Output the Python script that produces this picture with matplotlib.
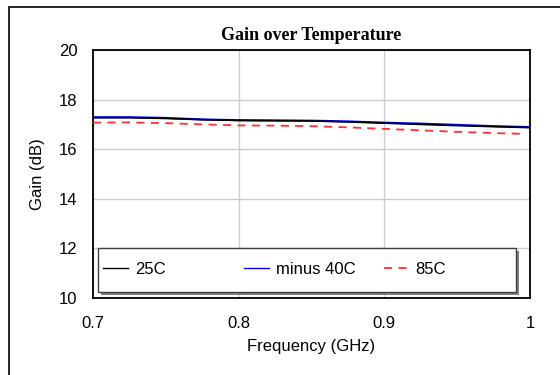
import matplotlib
matplotlib.use('Agg')
import matplotlib.pyplot as plt
from matplotlib.patches import Rectangle
from matplotlib.lines import Line2D
from matplotlib.legend import Legend

# data
freq = [0.700, 0.725, 0.750, 0.775, 0.800, 0.825, 0.850, 0.875, 0.900, 0.925, 0.950, 0.975, 1.000]
gain_25c = [17.27, 17.27, 17.24, 17.19, 17.16, 17.15, 17.14, 17.10, 17.05, 17.00, 16.95, 16.91, 16.87]
gain_m40c = [17.29, 17.29, 17.26, 17.20, 17.17, 17.16, 17.15, 17.12, 17.07, 17.03, 16.98, 16.93, 16.89]
freq_85 = [0.700, 0.725, 0.750, 0.775, 0.800, 0.825, 0.850, 0.875, 0.900, 0.925, 0.950, 0.975, 0.995]
gain_85c = [17.07, 17.08, 17.05, 17.00, 16.96, 16.95, 16.93, 16.88, 16.82, 16.76, 16.70, 16.65, 16.62]
labels = ['25C', 'minus 40C', '85C']
xticks = [0.7, 0.8, 0.9, 1.0]
xticklabels = ['0.7', '0.8', '0.9', '1']
yticks = [10, 12, 14, 16, 18, 20]

plt.rcParams['font.family'] = ['Liberation Sans', 'DejaVu Sans']

fig = plt.figure(figsize=(5.6, 3.75), dpi=100)
W, H = 560.0, 375.0

# outer chart frame
fig.patches.append(Rectangle((9 / W, -0.1), 1.2, 1 - 6.5 / H + 0.1, transform=fig.transFigure,
                             fill=False, edgecolor='black', linewidth=1.2))

ax = fig.add_axes([93 / W, 1 - 298 / H, 437 / W, 248 / H])

ax.plot(freq, gain_25c, color='black', lw=1.2, zorder=3)
ax.plot(freq, gain_m40c, color='#0000ff', lw=1.5, zorder=2)
ax.plot(freq_85, gain_85c, color='#ff3030', lw=1.3, dashes=(4.5, 3.5), zorder=3)

ax.set_xlim(0.7, 1.0)
ax.set_ylim(10, 20)
ax.set_xticks(xticks)
ax.set_xticklabels(xticklabels)
ax.set_yticks(yticks)
ax.tick_params(length=0, labelsize=12)
ax.tick_params(axis='y', pad=11)
ax.tick_params(axis='x', pad=13)
ax.grid(True, color='#cccccc', lw=1)
ax.set_axisbelow(True)
for s in ax.spines.values():
    s.set_linewidth(1.3)

ax.set_xlabel('Frequency (GHz)', fontsize=12, labelpad=5.5)
ax.set_ylabel('Gain (dB)', fontsize=12, labelpad=10)

fig.text(311.5 / W, 1 - 35 / H, 'Gain over Temperature', ha='center', va='center',
         fontsize=13, fontweight='bold', family='Liberation Serif')

# legend frame with shadow
bx, by, bw, bh = 0.0108, 0.0254, 0.9568, 0.1774
ax.add_patch(Rectangle((bx + 3 / 437, by - 3 / 248), bw, bh, transform=ax.transAxes,
                       facecolor='#808080', edgecolor='none', zorder=5))
ax.add_patch(Rectangle((bx, by), bw, bh, transform=ax.transAxes,
                       facecolor='white', edgecolor='#404040', lw=1, zorder=6))

handles = [Line2D([], [], color='black', lw=1),
           Line2D([], [], color='#0000ff', lw=1),
           Line2D([], [], color='#ff3030', lw=1.3, dashes=(4.5, 3.5))]
xpos = [0.0229, 0.3455, 0.6659]
for h, lab, x in zip(handles, labels, xpos):
    leg = Legend(ax, [h], [lab], loc='center left', bbox_to_anchor=(x, 0.116),
                 frameon=False, borderpad=0, borderaxespad=0, fontsize=12,
                 handlelength=1.5, handletextpad=0.4)
    leg.set_zorder(7)
    ax.add_artist(leg)

fig.savefig('out.png', dpi=100)
